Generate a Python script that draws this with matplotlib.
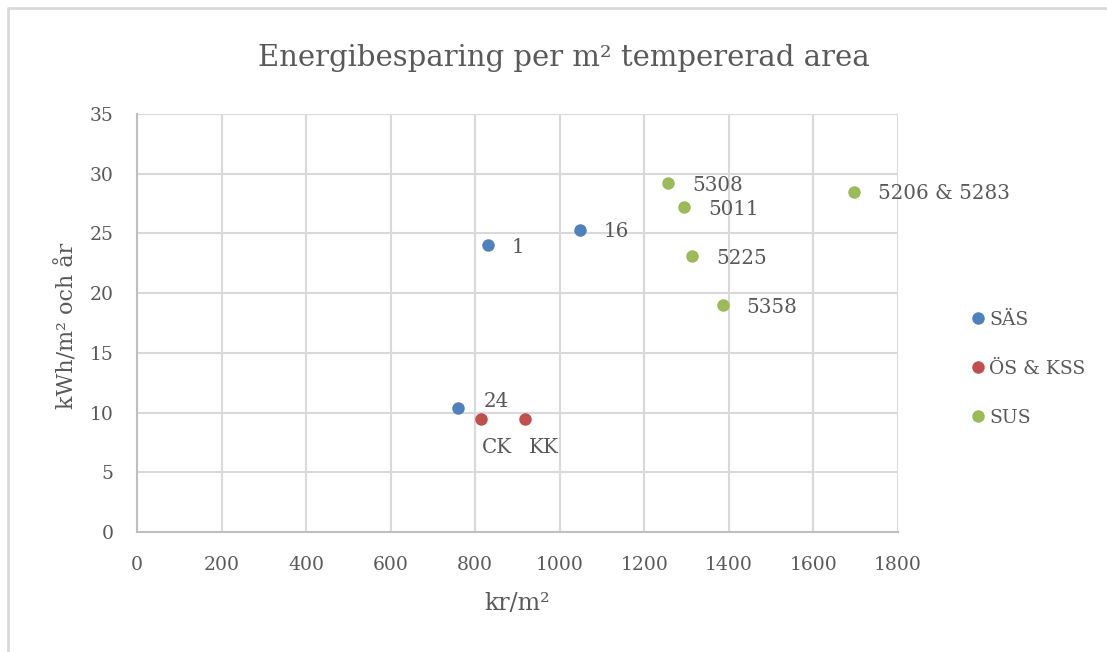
import matplotlib.pyplot as plt
from matplotlib.lines import Line2D

# data
sas_x = [830, 1047, 760]
sas_y = [24.0, 25.3, 10.4]
sas_labels = ["1", "16", "24"]

os_kss_x = [814, 917]
os_kss_y = [9.5, 9.5]
os_kss_labels = ["CK", "KK"]

sus_x = [1257, 1294, 1313, 1385, 1697]
sus_y = [29.2, 27.2, 23.1, 19.0, 28.5]
sus_labels = ["5308", "5011", "5225", "5358", "5206 & 5283"]

series_names = ["SÄS", "ÖS & KSS", "SUS"]
x_ticks = [0, 200, 400, 600, 800, 1000, 1200, 1400, 1600, 1800]
y_ticks = [0, 5, 10, 15, 20, 25, 30, 35]

colors = ["#4F81BD", "#C0504D", "#9BBB59"]
text_color = "#595959"
grid_color = "#D9D9D9"

# label offsets in pixels (dx, dy), default is right of the point
offsets = {"24": (25, 6), "CK": (1, -29), "KK": (4, -29)}

plt.rcParams["font.family"] = ["DejaVu Serif"]

fig = plt.figure(figsize=(11.07, 6.52), dpi=100)
W, H = 1107, 652
ax = fig.add_axes([137 / W, 1 - 532 / H, (898 - 137) / W, (532 - 114) / H])

series = [
    (sas_x, sas_y, sas_labels),
    (os_kss_x, os_kss_y, os_kss_labels),
    (sus_x, sus_y, sus_labels),
]
for (xs, ys, labels), name, c in zip(series, series_names, colors):
    ax.plot(xs, ys, "o", color=c, markersize=9, markeredgewidth=0, label=name, zorder=3)
    for x, y, lab in zip(xs, ys, labels):
        dx, dy = offsets.get(lab, (24, -2))
        ax.annotate(lab, (x, y), xytext=(dx, dy), textcoords="offset pixels",
                    ha="left", va="center", fontsize=14.3, color=text_color)

ax.set_xlim(0, 1800)
ax.set_ylim(0, 35)
ax.set_xticks(x_ticks)
ax.set_yticks(y_ticks)
ax.grid(True, color=grid_color, linewidth=1.5)
ax.set_axisbelow(True)
for side in ["top", "right"]:
    ax.spines[side].set_visible(False)
for side in ["left", "bottom"]:
    ax.spines[side].set_color("#BFBFBF")
    ax.spines[side].set_linewidth(1.5)
ax.tick_params(length=0, labelsize=13.5, labelcolor=text_color)
ax.tick_params(axis="y", pad=17)
ax.tick_params(axis="x", pad=17)

fig.text(564 / W, 1 - 58 / H, "Energibesparing per m² tempererad area",
         ha="center", va="center", fontsize=21, color=text_color)
fig.text(517 / W, 1 - 604 / H, "kr/m²", ha="center", va="center",
         fontsize=17, color=text_color)
fig.text(67 / W, 1 - 326 / H, "kWh/m² och år", ha="center", va="center",
         rotation=90, fontsize=16, color=text_color)

ax.legend(loc="center left", bbox_to_anchor=(959 / W, 1 - 369 / H),
          bbox_transform=fig.transFigure, frameon=False, fontsize=13.5,
          handletextpad=0.1, labelspacing=1.65, borderpad=0, markerscale=1,
          labelcolor=text_color, handlelength=1.0)

# chart border (only top and left edges show in the crop)
fig.lines.append(Line2D([8 / W, 8 / W, 1.0], [0.0, 1 - 8 / H, 1 - 8 / H],
                        transform=fig.transFigure, color="#D9D9D9", linewidth=2))

fig.savefig("out.png", dpi=100)
